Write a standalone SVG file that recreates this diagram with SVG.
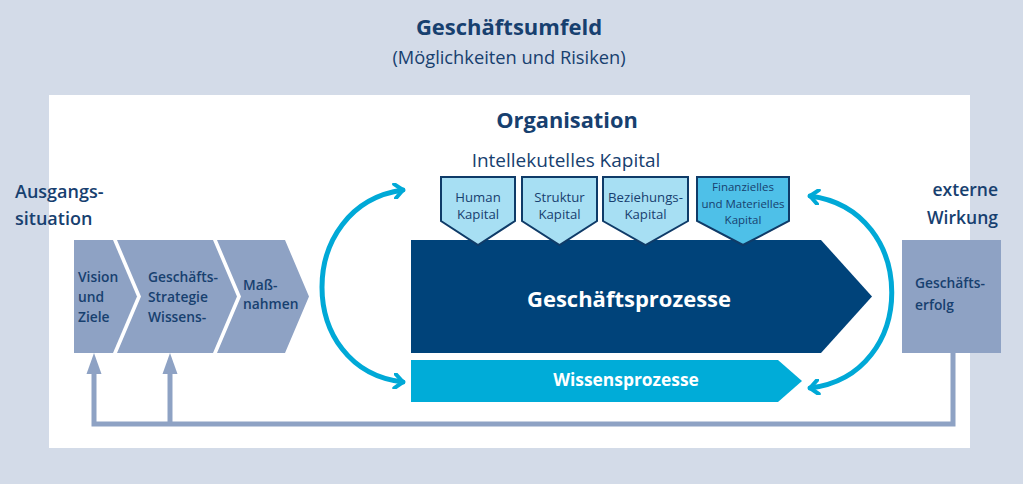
<svg xmlns="http://www.w3.org/2000/svg" width="1023" height="484" viewBox="0 0 1023 484">
<defs>
<style>
.t{font-family:"Open Sans","Noto Sans","DejaVu Sans",sans-serif;fill:#17406f}
.b{font-weight:700}
.sb{font-weight:600}
.chev{fill:#8ea2c4}
.cap{fill:#a7dff3;stroke:#0f3b68;stroke-width:2}
.cap2{fill:#4ec0e8;stroke:#0f3b68;stroke-width:2}
.cyc{fill:none;stroke:#00a9d7;stroke-width:5;stroke-linecap:round}
.fb{fill:none;stroke:#8ea2c4;stroke-width:5}
</style>
<marker id="ah" viewBox="0 0 12 16" refX="10" refY="8" markerWidth="12" markerHeight="16" markerUnits="userSpaceOnUse" orient="auto-start-reverse">
<polyline points="2,1 10,8 2,15" fill="none" stroke="#00a9d7" stroke-width="4" stroke-linecap="round" stroke-linejoin="round"/>
</marker>
</defs>
<rect x="0" y="0" width="1023" height="484" fill="#d3dbe8"/>
<rect x="49" y="95" width="921" height="353" fill="#ffffff"/>
<text class="t b" x="509" y="35" font-size="22" text-anchor="middle">Geschäftsumfeld</text>
<text class="t" x="509" y="64" font-size="18.3" text-anchor="middle">(Möglichkeiten und Risiken)</text>
<text class="t b" x="567" y="128" font-size="21.8" text-anchor="middle">Organisation</text>
<text class="t" x="566" y="167" font-size="19" text-anchor="middle">Intellekutelles Kapital</text>
<text class="t sb" x="15" y="198" font-size="18">Ausgangs-</text>
<text class="t sb" x="15" y="225" font-size="18">situation</text>
<text class="t sb" x="998" y="196" font-size="17.5" text-anchor="end">externe</text>
<text class="t sb" x="998" y="224" font-size="17.5" text-anchor="end">Wirkung</text>

<g id="connectors">
<polyline class="fb" points="953,353 953,424 94,424 94,370"/>
<line class="fb" x1="170" y1="424" x2="170" y2="370"/>
<polygon points="94,353 86.5,374 101.5,374" fill="#8ea2c4"/>
<polygon points="170,353 162.5,374 177.5,374" fill="#8ea2c4"/>
<path class="cyc" d="M 403,190 C 295,205 295,370 403,382" marker-start="url(#ah)" marker-end="url(#ah)"/>
<path class="cyc" d="M 810,196 C 919,210 919,375 810,388" marker-start="url(#ah)" marker-end="url(#ah)"/>
</g>

<g id="vision">
<polygon class="chev" points="74,240 113,240 137,296.5 113,353 74,353"/>
<text class="t sb" font-size="13.8"><tspan x="78" y="282">Vision</tspan><tspan x="78" y="302">und</tspan><tspan x="78" y="322">Ziele</tspan></text>
</g>
<g id="strategie">
<polygon class="chev" points="117,240 213,240 237,296.5 213,353 117,353 141,296.5"/>
<text class="t sb" font-size="13.8"><tspan x="148" y="282">Geschäfts-</tspan><tspan x="148" y="302">Strategie</tspan><tspan x="148" y="322">Wissens-</tspan></text>
</g>
<g id="massnahmen">
<polygon class="chev" points="217,240 285,240 309,296.5 285,353 217,353 241,296.5"/>
<text class="t sb" font-size="13.8"><tspan x="243" y="290">Maß-</tspan><tspan x="243" y="309">nahmen</tspan></text>
</g>

<g id="geschaeftsprozesse">
<polygon points="411,240 821,240 872,296.5 821,353 411,353" fill="#00437a"/>
<text class="t b" x="629" y="307" font-size="22" style="fill:#ffffff" text-anchor="middle">Geschäftsprozesse</text>
</g>
<g id="wissensprozesse">
<polygon points="411,360 778,360 802,381 778,402 411,402" fill="#00acd8"/>
<text class="t b" x="626" y="386" font-size="17.4" style="fill:#ffffff" text-anchor="middle">Wissensprozesse</text>
</g>

<g id="human">
<polygon class="cap" points="441,177 515,177 515,221 478,245 441,221"/>
<text class="t" font-size="13.2" text-anchor="middle"><tspan x="478" y="202">Human</tspan><tspan x="478" y="219">Kapital</tspan></text>
</g>
<g id="struktur">
<polygon class="cap" points="522,177 597,177 597,221 559.5,245 522,221"/>
<text class="t" font-size="13.2" text-anchor="middle"><tspan x="559.5" y="202">Struktur</tspan><tspan x="559.5" y="219">Kapital</tspan></text>
</g>
<g id="beziehung">
<polygon class="cap" points="603,177 688,177 688,221 645.5,245 603,221"/>
<text class="t" font-size="13.2" text-anchor="middle"><tspan x="645.5" y="202">Beziehungs-</tspan><tspan x="645.5" y="219">Kapital</tspan></text>
</g>
<g id="finanz">
<polygon class="cap2" points="697,177 789,177 789,221 743,245 697,221"/>
<text class="t" font-size="11.5" text-anchor="middle"><tspan x="743" y="191">Finanzielles</tspan><tspan x="743" y="208">und Materielles</tspan><tspan x="743" y="224">Kapital</tspan></text>
</g>

<g id="erfolg">
<rect x="902" y="240" width="99" height="113" fill="#8ea2c4"/>
<text class="t sb" font-size="13.8"><tspan x="915" y="288">Geschäfts-</tspan><tspan x="915" y="310">erfolg</tspan></text>
</g>
</svg>
